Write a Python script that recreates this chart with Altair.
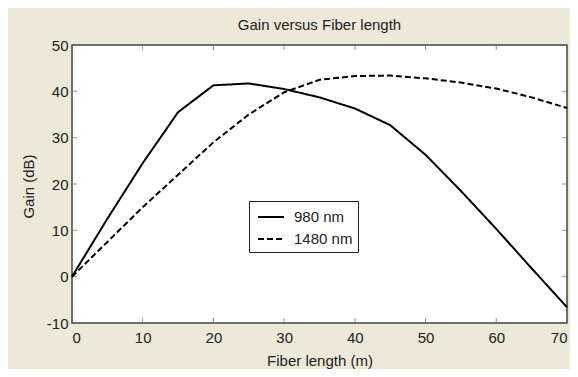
import altair as alt
import pandas as pd

# Fiber length (m)
length = [0, 5, 10, 15, 20, 25, 30, 35, 40, 45, 50, 55, 60, 65, 70]
# Gain (dB)
gain_980 = [0, 12.5, 24.5, 35.5, 41.3, 41.7, 40.5, 38.7, 36.3, 32.7, 26.3, 18.5, 10.3, 1.8, -6.6]
gain_1480 = [0, 7.5, 15.0, 22.0, 29.0, 35.0, 39.8, 42.5, 43.3, 43.4, 42.8, 41.9, 40.6, 38.7, 36.4]
series_names = ["980 nm", "1480 nm"]

x_ticks = [0, 10, 20, 30, 40, 50, 60, 70]
y_ticks = [-10, 0, 10, 20, 30, 40, 50]

rows = []
for name, vals in zip(series_names, [gain_980, gain_1480]):
    for L, g in zip(length, vals):
        rows.append({"length": L, "gain": g, "series": name})
df = pd.DataFrame(rows)

W, H = 495, 278
FONT = "Liberation Sans"
TXT = "#222222"

xscale = alt.Scale(domain=[0, 70], nice=False, zero=False)
yscale = alt.Scale(domain=[-10, 50], nice=False, zero=False)

lines = alt.Chart(df).mark_line(color="black", strokeWidth=2).encode(
    x=alt.X("length:Q", scale=xscale,
            axis=alt.Axis(values=x_ticks, title="Fiber length (m)", ticks=False, domain=False, grid=False,
                          labelPadding=7, labelFontSize=15, labelFont=FONT, labelColor=TXT,
                          titleFontSize=15, titleFont=FONT, titleColor=TXT, titleFontWeight="normal",
                          titleY=37, titleBaseline="middle")),
    y=alt.Y("gain:Q", scale=yscale,
            axis=alt.Axis(values=y_ticks, title="Gain (dB)", ticks=False, domain=False, grid=False,
                          labelPadding=4, labelFontSize=15, labelFont=FONT, labelColor=TXT,
                          labelExpr="datum.value < 0 ? '-' + abs(datum.value) : '' + datum.value",
                          titleFontSize=15, titleFont=FONT, titleColor=TXT, titleFontWeight="normal",
                          titleX=-44, titleY=141, titleAngle=-90, titleAlign="center", titleBaseline="middle")),
    strokeDash=alt.StrokeDash("series:N",
                              scale=alt.Scale(domain=series_names, range=[[1, 0], [6, 3]]),
                              legend=alt.Legend(title=None, orient="none", legendX=177, legendY=156,
                                                fillColor="white", strokeColor="#222", padding=5,
                                                symbolType="M-1.3,0H1.3", symbolSize=400, symbolStrokeWidth=2,
                                                symbolStrokeColor="black", symbolOffset=6,
                                                labelFontSize=15, labelFont=FONT,
                                                labelColor=TXT, rowPadding=3, labelOffset=12,
                                                labelExpr="datum.label + '\u00a0\u00a0'")),
    order=alt.Order("length:Q"),
)

xt = pd.DataFrame({"v": x_ticks})
yt = pd.DataFrame({"v": y_ticks})
tick_color = "#666666"
xb = alt.Chart(xt).mark_tick(orient="vertical", size=5, thickness=1, color=tick_color, yOffset=-2.5).encode(
    x=alt.X("v:Q", scale=xscale), y=alt.value(H))
xtp = alt.Chart(xt).mark_tick(orient="vertical", size=5, thickness=1, color=tick_color, yOffset=2.5).encode(
    x=alt.X("v:Q", scale=xscale), y=alt.value(0))
yl = alt.Chart(yt).mark_tick(orient="horizontal", size=5, thickness=1, color=tick_color, xOffset=2.5).encode(
    y=alt.Y("v:Q", scale=yscale), x=alt.value(0))
yr = alt.Chart(yt).mark_tick(orient="horizontal", size=5, thickness=1, color=tick_color, xOffset=-2.5).encode(
    y=alt.Y("v:Q", scale=yscale), x=alt.value(W))

chart = alt.layer(xb, xtp, yl, yr, lines).properties(
    width=W, height=H,
    title=alt.TitleParams("Gain versus Fiber length", fontSize=15, font=FONT, color=TXT,
                          fontWeight="normal", anchor="middle", offset=5),
    autosize=alt.AutoSizeParams(type="none"),
    padding={"left": 64, "top": 37, "right": 3, "bottom": 46},
).configure(background="#ECE9D8").configure_view(fill="white", stroke="#444444", strokeWidth=1.5)

chart.save("out.html", embed_options={"renderer": "svg", "actions": False})
